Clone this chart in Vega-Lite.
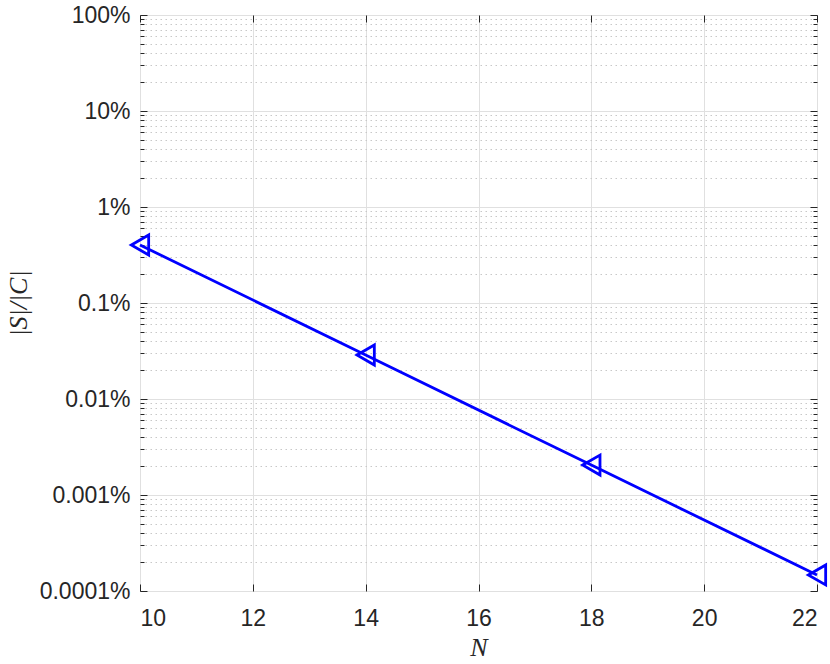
{
  "$schema": "https://vega.github.io/schema/vega-lite/v6.json",
  "width": 677,
  "height": 576,
  "autosize": {"type": "none"},
  "padding": {"left": 140, "top": 15, "right": 13, "bottom": 73},
  "background": "white",
  "config": {
    "view": {"stroke": "#262626", "strokeWidth": 1},
    "axis": {
      "labelFont": "Liberation Sans",
      "labelFontSize": 23,
      "labelColor": "#262626",
      "tickColor": "#262626",
      "domain": false,
      "titleColor": "#262626"
    }
  },
  "data": {
    "values": [
      {"N": 10, "ratio": 0.00402},
      {"N": 14, "ratio": 0.000287},
      {"N": 18, "ratio": 0.0000205},
      {"N": 22, "ratio": 0.00000147}
    ]
  },
  "resolve": {
    "scale": {"x": "shared", "y": "shared"},
    "axis": {"x": "independent", "y": "independent"}
  },
  "layer": [
    {
      "mark": {"type": "line", "opacity": 0},
      "encoding": {
        "x": {"field": "N", "type": "quantitative", "scale": {"domain": [10, 22], "nice": false, "zero": false}, "axis": null},
        "y": {
          "field": "ratio", "type": "quantitative",
          "scale": {"type": "log", "domain": [0.000001, 1], "nice": false},
          "axis": {
            "orient": "left",
            "values": [0.000002,0.000003,0.000004,0.000005,0.000006,0.000007,0.000008,0.000009,
                       0.00002,0.00003,0.00004,0.00005,0.00006,0.00007,0.00008,0.00009,
                       0.0002,0.0003,0.0004,0.0005,0.0006,0.0007,0.0008,0.0009,
                       0.002,0.003,0.004,0.005,0.006,0.007,0.008,0.009,
                       0.02,0.03,0.04,0.05,0.06,0.07,0.08,0.09,
                       0.2,0.3,0.4,0.5,0.6,0.7,0.8,0.9],
            "labels": false,
            "tickSize": -4,
            "grid": true,
            "gridColor": "#c8c8c8",
            "gridDash": [1.5, 3.5],
            "gridWidth": 1,
            "title": null
          }
        }
      }
    },
    {
      "mark": {"type": "line", "opacity": 0},
      "encoding": {
        "x": {
          "field": "N", "type": "quantitative",
          "axis": {"orient": "top", "values": [10,12,14,16,18,20,22], "labels": false, "tickSize": -7, "grid": false, "title": null}
        },
        "y": {
          "field": "ratio", "type": "quantitative",
          "axis": {
            "orient": "right",
            "values": [0.000002,0.000003,0.000004,0.000005,0.000006,0.000007,0.000008,0.000009,
                       0.00002,0.00003,0.00004,0.00005,0.00006,0.00007,0.00008,0.00009,
                       0.0002,0.0003,0.0004,0.0005,0.0006,0.0007,0.0008,0.0009,
                       0.002,0.003,0.004,0.005,0.006,0.007,0.008,0.009,
                       0.02,0.03,0.04,0.05,0.06,0.07,0.08,0.09,
                       0.2,0.3,0.4,0.5,0.6,0.7,0.8,0.9],
            "labels": false, "tickSize": -4, "grid": false, "title": null
          }
        }
      }
    },
    {
      "mark": {"type": "line", "opacity": 0},
      "encoding": {
        "x": {"field": "N", "type": "quantitative", "axis": null},
        "y": {
          "field": "ratio", "type": "quantitative",
          "axis": {"orient": "right", "values": [0.000001,0.00001,0.0001,0.001,0.01,0.1,1], "labels": false, "tickSize": -7, "grid": false, "title": null}
        }
      }
    },
    {
      "mark": {
        "type": "line",
        "color": "#0000ff",
        "strokeWidth": 2.8,
        "point": {"shape": "triangle-left", "filled": false, "size": 400, "strokeWidth": 2.8, "color": "#0000ff"}
      },
      "encoding": {
        "x": {
          "field": "N", "type": "quantitative",
          "axis": {
            "orient": "bottom",
            "values": [10,12,14,16,18,20,22],
            "tickSize": -7,
            "labelPadding": 23,
            "grid": true,
            "gridColor": "#e0e0e0",
            "gridWidth": 1,
            "title": "N",
            "titleFont": "Liberation Serif",
            "titleFontStyle": "italic",
            "titleFontWeight": "normal",
            "titleFontSize": 26,
            "titlePadding": 4
          }
        },
        "y": {
          "field": "ratio", "type": "quantitative",
          "axis": {
            "orient": "left",
            "values": [0.000001,0.00001,0.0001,0.001,0.01,0.1,1],
            "format": ".4~%",
            "tickSize": -7,
            "labelPadding": 17,
            "grid": true,
            "gridColor": "#e0e0e0",
            "gridWidth": 1,
            "title": "|S|/|C|",
            "titleFont": "Liberation Serif",
            "titleFontStyle": "italic",
            "titleFontWeight": "normal",
            "titleFontSize": 26,
            "titlePadding": 8
          }
        }
      }
    }
  ]
}
